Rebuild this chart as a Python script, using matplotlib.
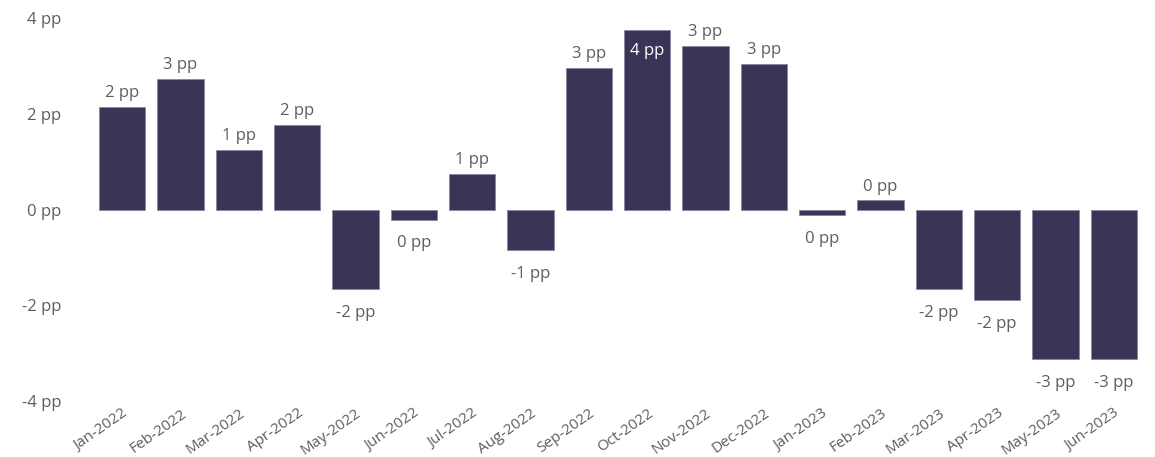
import matplotlib.pyplot as plt
import matplotlib.transforms as mtransforms
import numpy as np

months = ['Jan-2022', 'Feb-2022', 'Mar-2022', 'Apr-2022', 'May-2022', 'Jun-2022',
          'Jul-2022', 'Aug-2022', 'Sep-2022', 'Oct-2022', 'Nov-2022', 'Dec-2022',
          'Jan-2023', 'Feb-2023', 'Mar-2023', 'Apr-2023', 'May-2023', 'Jun-2023']
values = [2.15, 2.73, 1.25, 1.77, -1.67, -0.21, 0.75, -0.85, 2.96, 3.75, 3.42, 3.04,
          -0.12, 0.19, -1.67, -1.90, -3.12, -3.12]
y_ticks = [-4, -2, 0, 2, 4]

bar_color = '#3B3456'
text_color = '#605E5C'
plt.rcParams['font.family'] = ['Open Sans', 'DejaVu Sans']

fig = plt.figure(figsize=(11.55, 4.57), dpi=100)
ax = fig.add_axes([93 / 1155, 1 - 401 / 457, 1050 / 1155, 383 / 457])

x = np.arange(len(months))
ax.bar(x, values, width=0.79, color=bar_color, edgecolor='#8a85a0', linewidth=0.6)

for xi, v in zip(x, values):
    label = f'{round(v):.0f} pp'
    if v >= 3.5:
        # too close to the top, put it inside the bar
        ax.text(xi, v - 0.28, label, ha='center', va='top', color='white', fontsize=12)
    elif v >= 0:
        ax.text(xi, v + 0.12, label, ha='center', va='bottom', color=text_color, fontsize=12)
    else:
        ax.text(xi, v - 0.33, label, ha='center', va='top', color=text_color, fontsize=12)

ax.set_xlim(-0.5, len(months) - 0.5)
ax.set_ylim(-4, 4)
ax.set_yticks(y_ticks)
ax.set_yticklabels([f'{t} pp' for t in y_ticks], color=text_color, fontsize=12)
ax.set_xticks(x)
ax.set_xticklabels(months, rotation=35, ha='right', rotation_mode='anchor',
                   color=text_color, fontsize=11)
shift = mtransforms.ScaledTranslation(-6 / 100, 0, fig.dpi_scale_trans)
for lbl in ax.get_xticklabels():
    lbl.set_transform(lbl.get_transform() + shift)
ax.tick_params(length=0)
ax.tick_params(axis='y', pad=23)
for s in ax.spines.values():
    s.set_visible(False)

fig.savefig('out.png', dpi=100)
